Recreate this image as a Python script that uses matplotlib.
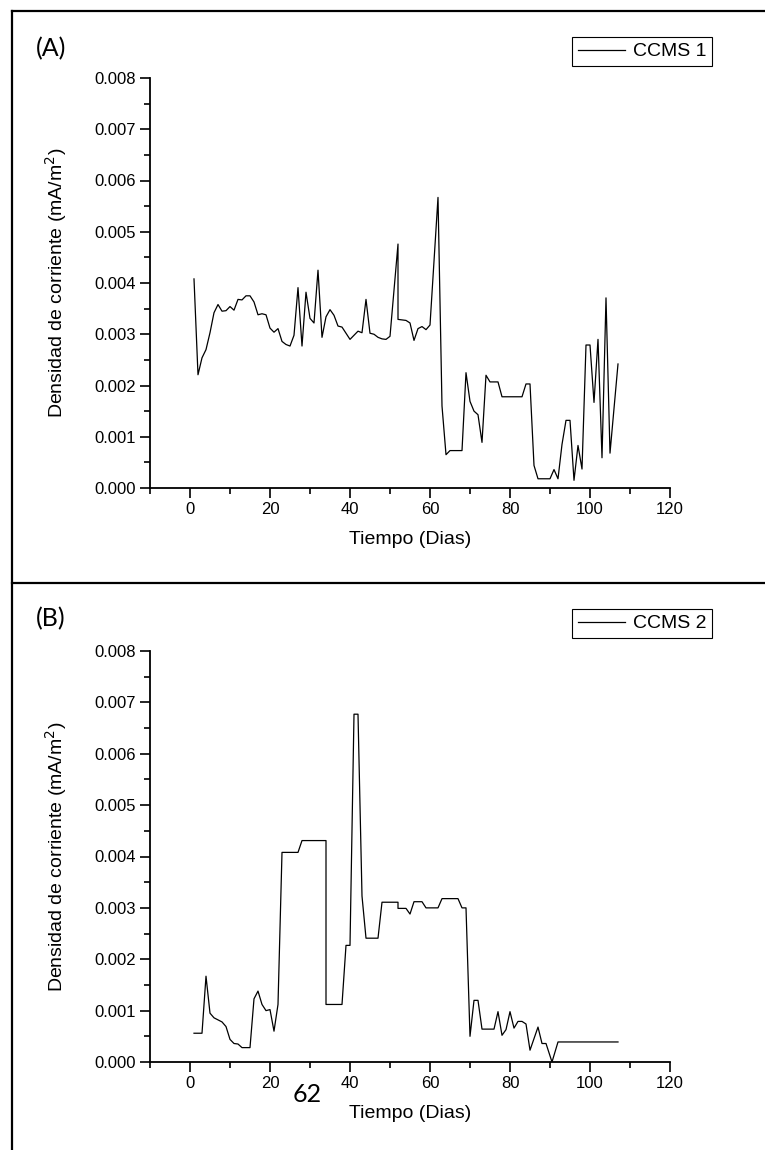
import matplotlib
matplotlib.use("Agg")
import matplotlib.pyplot as plt
from matplotlib.lines import Line2D
from matplotlib.ticker import MultipleLocator, FormatStrFormatter

plt.rcParams['font.family'] = ['Liberation Sans', 'DejaVu Sans']

# CCMS 1 (panel A): day, current density in mA/m^2
dias_a = [1, 2, 3, 4, 5, 6, 7, 8, 9, 10, 11, 12, 13, 14, 15, 16, 17, 18, 19, 20,
          21, 22, 23, 24, 25, 26, 27, 28, 29, 30, 31, 32, 33, 34, 35, 36, 37, 38,
          39, 40, 41, 42, 43, 44, 45, 46, 47, 48, 49, 50, 52, 52, 54, 55, 56, 57,
          58, 59, 60, 62, 63, 64, 65, 68, 69, 70, 71, 72, 73, 74, 75, 77, 78, 83,
          84, 85, 86, 87, 90, 91, 92, 93, 94, 95, 96, 97, 98, 99, 100, 101, 102,
          103, 104, 105, 107]
ccms1 = [0.00408, 0.00221, 0.00254, 0.00270, 0.00303, 0.00342, 0.00358, 0.00345,
         0.00346, 0.00354, 0.00347, 0.00368, 0.00367, 0.00375, 0.00375, 0.00363,
         0.00338, 0.00340, 0.00338, 0.00312, 0.00304, 0.00311, 0.00286, 0.00280,
         0.00277, 0.00298, 0.00391, 0.00277, 0.00382, 0.00331, 0.00322, 0.00425,
         0.00294, 0.00334, 0.00348, 0.00337, 0.00316, 0.00314, 0.00302, 0.00290,
         0.00298, 0.00306, 0.00303, 0.00368, 0.00302, 0.00300, 0.00294, 0.00291,
         0.00290, 0.00296, 0.00476, 0.00329, 0.00327, 0.00322, 0.00288, 0.00311,
         0.00315, 0.00309, 0.00318, 0.00567, 0.00160, 0.00065, 0.00073, 0.00073,
         0.00225, 0.00169, 0.00150, 0.00143, 0.00089, 0.00220, 0.00207, 0.00207,
         0.00178, 0.00178, 0.00203, 0.00203, 0.00044, 0.00018, 0.00018, 0.00036,
         0.00018, 0.00085, 0.00132, 0.00132, 0.00015, 0.00083, 0.00037, 0.00279,
         0.00279, 0.00167, 0.00290, 0.00059, 0.00371, 0.00068, 0.00242]

# CCMS 2 (panel B)
dias_b = [1, 3, 4, 5, 6, 7, 8, 9, 10, 11, 12, 13, 15, 16, 17, 18, 19, 20, 21, 22,
          23, 27, 28, 34, 34, 38, 39, 40, 41, 42, 43, 44, 47, 48, 52, 52, 54, 55,
          56, 58, 59, 62, 63, 67, 68, 69, 70, 71, 72, 73, 76, 77, 78, 79, 80, 81,
          82, 83, 84, 85, 87, 88, 89, 90.5, 92, 107]
ccms2 = [0.00056, 0.00056, 0.00167, 0.00095, 0.00086, 0.00082, 0.00078, 0.00069,
         0.00044, 0.00036, 0.00035, 0.00028, 0.00028, 0.00123, 0.00138, 0.00112,
         0.00100, 0.00102, 0.00060, 0.00112, 0.00408, 0.00408, 0.00431, 0.00431,
         0.00112, 0.00112, 0.00227, 0.00227, 0.00677, 0.00677, 0.00323, 0.00241,
         0.00241, 0.00311, 0.00311, 0.00299, 0.00299, 0.00288, 0.00312, 0.00312,
         0.00300, 0.00300, 0.00318, 0.00318, 0.00300, 0.00300, 0.00050, 0.00120,
         0.00120, 0.00064, 0.00064, 0.00098, 0.00052, 0.00063, 0.00098, 0.00066,
         0.00079, 0.00079, 0.00074, 0.00023, 0.00068, 0.00036, 0.00036, 0.0,
         0.00039, 0.00039]

W, H = 765, 1150
fig = plt.figure(figsize=(W / 100, H / 100), dpi=100)


def panel(bottom_px, top_px, x, y, label, letter, letter_y, legend_top):
    ax = fig.add_axes([150 / W, 1 - bottom_px / H, 520 / W, (bottom_px - top_px) / H])
    ax.plot(x, y, color='black', lw=0.9, label=label)
    ax.set_xlim(-10, 120)
    ax.set_ylim(0, 0.008)
    ax.xaxis.set_major_locator(MultipleLocator(20))
    ax.xaxis.set_minor_locator(MultipleLocator(10))
    ax.yaxis.set_major_locator(MultipleLocator(0.001))
    ax.yaxis.set_minor_locator(MultipleLocator(0.0005))
    ax.yaxis.set_major_formatter(FormatStrFormatter('%.3f'))
    for s in ['top', 'right']:
        ax.spines[s].set_visible(False)
    for s in ['left', 'bottom']:
        ax.spines[s].set_linewidth(1.3)
    ax.tick_params(which='major', direction='out', length=7, width=1.2,
                   labelsize=12, pad=3)
    ax.tick_params(which='minor', direction='out', length=4, width=1.2)
    ax.set_xlabel('Tiempo (Dias)', fontsize=14)
    ax.xaxis.set_label_coords(0.5, -0.105)
    ax.set_ylabel('Densidad de corriente (mA/m$^2$)', fontsize=14)
    ax.yaxis.set_label_coords(-0.155, 0.5)
    leg = ax.legend(loc='upper right', bbox_to_anchor=(712 / W, 1 - legend_top / H),
                    bbox_transform=fig.transFigure, fancybox=False, framealpha=1,
                    edgecolor='black', fontsize=14, borderpad=0.3,
                    handlelength=2.4, handletextpad=0.4, borderaxespad=0)
    leg.get_frame().set_linewidth(0.8)
    fig.text(36 / W, 1 - letter_y / H, letter, fontsize=18, family='Lato',
             ha='left', va='center')
    return ax


panel(488, 78, dias_a, ccms1, 'CCMS 1', '(A)', 49, 37)
panel(1062, 651, dias_b, ccms2, 'CCMS 2', '(B)', 619, 609)

# page number and the frame around the figure
fig.text(307 / W, 1 - 1095 / H, '62', fontsize=18, family='Lato',
         ha='center', va='center')
for xs, ys in [([12, W], [11, 11]), ([12, 12], [11, H]), ([12, W], [583, 583])]:
    fig.add_artist(Line2D([v / W for v in xs], [1 - v / H for v in ys],
                          color='black', lw=1.6, transform=fig.transFigure))

fig.savefig('out.png', dpi=100)
